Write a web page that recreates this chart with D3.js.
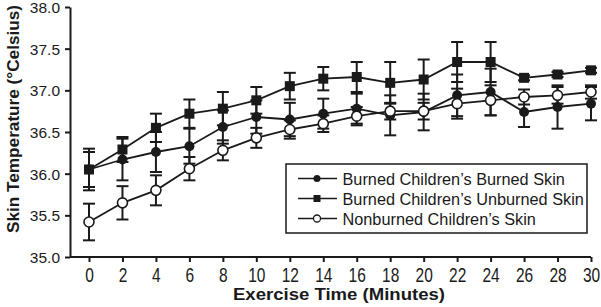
<!DOCTYPE html>
<html lang="en">
<head>
<meta charset="UTF-8">
<title>Skin Temperature</title>
<script src="https://d3js.org/d3.v7.min.js"></script>
<style>
  body { margin: 0; background: #fff; font-family: "Liberation Sans", Arial, sans-serif; }
  .axis path, .axis line { stroke: #1a1a1a; stroke-width: 2; }
  .axis text { fill: #1a1a1a; font-size: 15.5px; font-family: "Liberation Sans", Arial, sans-serif; }
</style>
</head>
<body>
<div id="chart"></div>
<script>
// data
const minutes = [0, 2, 4, 6, 8, 10, 12, 14, 16, 18, 20, 22, 24, 26, 28, 30];
const burnedSkin =   [36.05, 36.17, 36.26, 36.33, 36.56, 36.68, 36.65, 36.72, 36.78, 36.70, 36.74, 36.94, 36.98, 36.74, 36.80, 36.84];
const burnedSkinErr = [0.21, 0.25, 0.24, 0.21, 0.20, 0.20, 0.20, 0.18, 0.18, 0.24, 0.22, 0.25, 0.28, 0.18, 0.26, 0.20];
const unburnedSkin = [36.05, 36.29, 36.55, 36.72, 36.78, 36.88, 37.05, 37.14, 37.16, 37.09, 37.13, 37.34, 37.34, 37.15, 37.19, 37.24];
const unburnedSkinErr = [0.25, 0.15, 0.17, 0.17, 0.20, 0.16, 0.16, 0.14, 0.18, 0.25, 0.24, 0.24, 0.24, 0.03, 0.03, 0.03];
const nonburnedSkin = [35.42, 35.65, 35.80, 36.06, 36.28, 36.43, 36.53, 36.60, 36.69, 36.75, 36.75, 36.84, 36.88, 36.92, 36.94, 36.98];
const nonburnedSkinErr = [0.22, 0.20, 0.18, 0.14, 0.12, 0.12, 0.11, 0.10, 0.11, 0.10, 0.10, 0.18, 0.18, 0.09, 0.10, 0.08];
const yTicks = [35.0, 35.5, 36.0, 36.5, 37.0, 37.5, 38.0];
const xTicks = minutes;

const series = [
  { name: "Burned Children\u2019s Burned Skin", values: burnedSkin, err: burnedSkinErr, marker: "filledCircle" },
  { name: "Burned Children\u2019s Unburned Skin", values: unburnedSkin, err: unburnedSkinErr, marker: "square" },
  { name: "Nonburned Children\u2019s Skin", values: nonburnedSkin, err: nonburnedSkinErr, marker: "openCircle" }
];

const W = 601, H = 307;
const margin = { top: 7, right: 10, bottom: 50, left: 70 };
const ink = "#1a1a1a";

const svg = d3.select("#chart").append("svg")
  .attr("width", W).attr("height", H);

// 0 min sits at x=89, 30 min at x=591; y axis line at x=70
const x = d3.scaleLinear().domain([0, 30]).range([89, 591]);
const y = d3.scaleLinear().domain([35, 38]).range([257, margin.top]);

// axes
svg.append("g").attr("class", "axis")
  .attr("transform", `translate(0,${y(35)})`)
  .call(d3.axisBottom(x).tickValues(xTicks).tickSize(5).tickSizeOuter(0))
  .call(g => g.select(".domain").attr("d", `M${margin.left},0H${x(30)}`))
  .call(g => g.selectAll(".tick text")
    .attr("y", 0).attr("dy", null)
    .attr("font-size", "14px")
    .attr("transform", "translate(0,24.5) scale(1,1.35)"));

svg.append("g").attr("class", "axis")
  .attr("transform", `translate(${margin.left},0)`)
  .call(d3.axisLeft(y).tickValues(yTicks).tickFormat(d3.format(".1f")).tickSize(5).tickSizeOuter(0).tickPadding(5))
  .call(g => g.selectAll(".tick text").attr("dy", "0.36em"));

// axis titles
svg.append("text")
  .attr("x", 339).attr("y", 300)
  .attr("text-anchor", "middle")
  .attr("font-weight", "bold").attr("font-size", "17px").attr("fill", ink)
  .attr("textLength", 212).attr("lengthAdjust", "spacingAndGlyphs")
  .text("Exercise Time (Minutes)");

svg.append("text")
  .attr("transform", "translate(19,119) rotate(-90)")
  .attr("text-anchor", "middle")
  .attr("font-weight", "bold").attr("font-size", "17px").attr("fill", ink)
  .attr("textLength", 228).attr("lengthAdjust", "spacingAndGlyphs")
  .text("Skin Temperature (\u00B0Celsius)");

function drawMarker(g, type, cx, cy) {
  if (type === "square") {
    g.append("rect").attr("x", cx - 5).attr("y", cy - 5).attr("width", 10).attr("height", 10)
      .attr("fill", ink);
  } else if (type === "filledCircle") {
    g.append("circle").attr("cx", cx).attr("cy", cy).attr("r", 5).attr("fill", ink);
  } else {
    g.append("circle").attr("cx", cx).attr("cy", cy).attr("r", 5)
      .attr("fill", "#fff").attr("stroke", ink).attr("stroke-width", 1.6);
  }
}

const line = d3.line().x((d, i) => x(minutes[i])).y(d => y(d));

// error bars first, then lines, then markers
series.forEach(s => {
  const g = svg.append("g");
  s.values.forEach((v, i) => {
    const cx = x(minutes[i]);
    const top = y(v + s.err[i]), bot = y(v - s.err[i]);
    g.append("line").attr("x1", cx).attr("x2", cx).attr("y1", top).attr("y2", bot)
      .attr("stroke", ink).attr("stroke-width", 2);
    [top, bot].forEach(yy => g.append("line")
      .attr("x1", cx - 6).attr("x2", cx + 6).attr("y1", yy).attr("y2", yy)
      .attr("stroke", ink).attr("stroke-width", 2));
  });
});

series.forEach(s => {
  svg.append("path").datum(s.values)
    .attr("fill", "none").attr("stroke", ink).attr("stroke-width", 1.8)
    .attr("d", line);
});

series.forEach(s => {
  const g = svg.append("g");
  s.values.forEach((v, i) => drawMarker(g, s.marker, x(minutes[i]), y(v)));
});

// legend
const legend = svg.append("g");
legend.append("rect")
  .attr("x", 286).attr("y", 164).attr("width", 301).attr("height", 69)
  .attr("fill", "#fff").attr("stroke", ink).attr("stroke-width", 1.5);

series.forEach((s, i) => {
  const ly = 178.5 + i * 20;
  legend.append("line").attr("x1", 298).attr("x2", 337).attr("y1", ly).attr("y2", ly)
    .attr("stroke", ink).attr("stroke-width", 1.5);
  const mg = legend.append("g");
  if (s.marker === "square") {
    mg.append("rect").attr("x", 313.5).attr("y", ly - 3.5).attr("width", 7).attr("height", 7).attr("fill", ink);
  } else if (s.marker === "filledCircle") {
    mg.append("circle").attr("cx", 317).attr("cy", ly).attr("r", 3.5).attr("fill", ink);
  } else {
    mg.append("circle").attr("cx", 317).attr("cy", ly).attr("r", 3.5)
      .attr("fill", "#fff").attr("stroke", ink).attr("stroke-width", 1.3);
  }
  legend.append("text")
    .attr("x", 342.5).attr("y", ly + 6)
    .attr("font-size", "16.3px").attr("fill", ink)
    .text(s.name);
});
</script>
</body>
</html>
